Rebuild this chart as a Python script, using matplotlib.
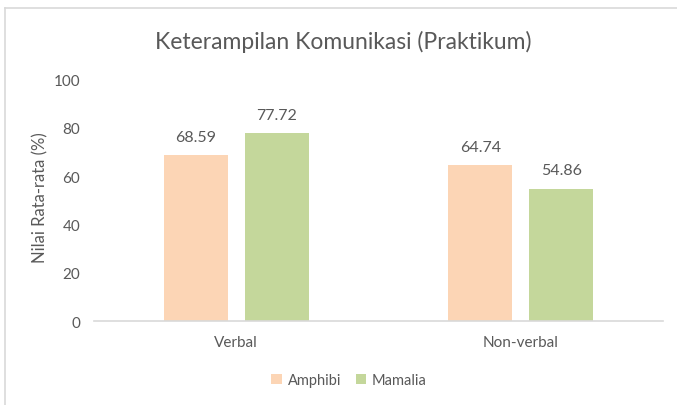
import matplotlib
matplotlib.use("Agg")
import matplotlib.pyplot as plt
import numpy as np
from matplotlib.lines import Line2D

categories = ["Verbal", "Non-verbal"]
series_names = ["Amphibi", "Mamalia"]
amphibi = [68.59, 64.74]
mamalia = [77.72, 54.86]
yticks = [0, 20, 40, 60, 80, 100]

colors = ["#FCD5B5", "#C4D79B"]
txt = "#595959"
plt.rcParams['font.family'] = ['Lato', 'DejaVu Sans']

W, H = 677, 406
fig = plt.figure(figsize=(W / 100, H / 100), dpi=100)
fig.patch.set_facecolor("white")

# chart frame (partially visible)
fig.add_artist(Line2D([4.5 / W, 4.5 / W], [0, 1 - 9 / H], transform=fig.transFigure, color="#D9D9D9", lw=1.2))
fig.add_artist(Line2D([4.5 / W, 1], [1 - 9 / H, 1 - 9 / H], transform=fig.transFigure, color="#D9D9D9", lw=1.2))

ax = fig.add_axes([94 / W, 1 - 322 / H, (663 - 94) / W, (322 - 80.5) / H])
x = np.arange(len(categories))
bw = 0.225
off = 0.1424
b1 = ax.bar(x - off, amphibi, bw, color=colors[0], label=series_names[0])
b2 = ax.bar(x + off, mamalia, bw, color=colors[1], label=series_names[1])
for bars, vals in ((b1, amphibi), (b2, mamalia)):
    for r, v in zip(bars, vals):
        ax.annotate(f"{v:.2f}", (r.get_x() + r.get_width() / 2, v), xytext=(0, 8),
                    textcoords="offset points", ha="center", va="bottom", fontsize=11.5, color=txt)

ax.set_xlim(-0.5, 1.5)
ax.set_ylim(0, 100)
ax.set_yticks(yticks)
ax.set_yticklabels([str(t) for t in yticks])
ax.set_xticks(x)
ax.set_xticklabels(categories)
for s in ["top", "right", "left"]:
    ax.spines[s].set_visible(False)
ax.spines["bottom"].set_color("#D9D9D9")
ax.spines["bottom"].set_linewidth(1.2)
ax.tick_params(axis="y", length=0, pad=10, labelsize=11, labelcolor=txt)
ax.tick_params(axis="x", length=0, pad=10, labelsize=11, labelcolor=txt)
ax.set_ylabel("Nilai Rata-rata (%)", fontsize=12, color=txt)
ax.yaxis.set_label_coords((40 - 94) / 569, (322 - 198) / 241.5)
ax.yaxis.label.set_va("center")

fig.text(343 / W, 1 - 42 / H, "Keterampilan Komunikasi (Praktikum)", ha="center", va="center",
         fontsize=16.5, color=txt)

leg = fig.legend(handles=[b1, b2], labels=series_names, loc="center", bbox_to_anchor=(349 / W, 1 - 381 / H),
                 ncol=2, frameon=False, fontsize=10.5, handlelength=0.7, handleheight=0.7,
                 handletextpad=0.4, columnspacing=1.0)
for t in leg.get_texts():
    t.set_color(txt)

fig.savefig("out.png", dpi=100)
